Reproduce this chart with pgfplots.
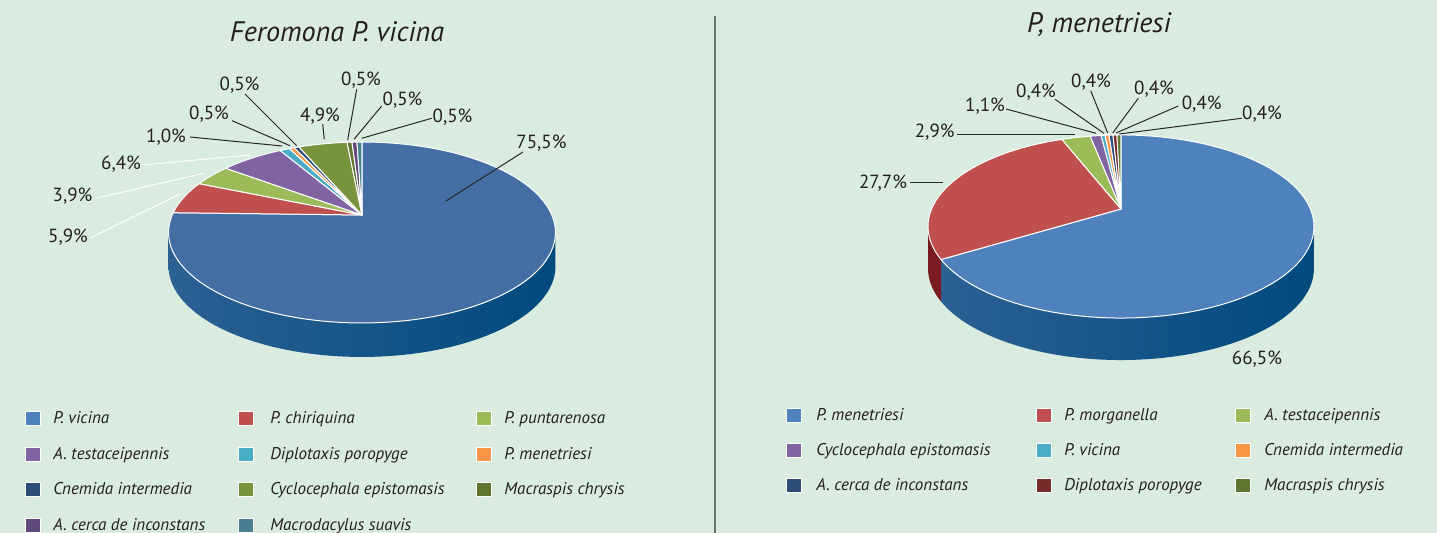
\documentclass[border=0pt]{standalone}
\usepackage{fontspec}
\setmainfont{PT Sans}
\usepackage{pgfplots}
\pgfplotsset{compat=1.18}

\definecolor{bg}{RGB}{217,236,223}
\definecolor{txt}{RGB}{35,31,32}
\definecolor{lead}{RGB}{40,40,40}
\definecolor{cBlueL}{RGB}{69,111,164}
\definecolor{cBlue}{RGB}{79,129,189}
\definecolor{cRed}{RGB}{192,80,77}
\definecolor{cGreen}{RGB}{155,187,89}
\definecolor{cPurple}{RGB}{128,100,162}
\definecolor{cCyan}{RGB}{75,172,198}
\definecolor{cOrange}{RGB}{247,150,70}
\definecolor{cNavy}{RGB}{44,77,117}
\definecolor{cOlive}{RGB}{119,147,60}
\definecolor{cDkGreen}{RGB}{95,117,48}
\definecolor{cDkPurple}{RGB}{96,74,123}
\definecolor{cTeal}{RGB}{74,126,145}
\definecolor{cDkRed}{RGB}{119,44,42}
\definecolor{wallA}{RGB}{44,96,147}
\definecolor{wallB}{RGB}{0,74,126}
\definecolor{wallRed}{RGB}{122,26,33}
\definecolor{divider}{RGB}{110,118,113}

% data: percentage / colour
\def\dataL{75.5/cBlueL,5.9/cRed,3.9/cGreen,6.4/cPurple,1.0/cCyan,0.5/cOrange,0.5/cNavy,4.9/cOlive,0.5/cDkGreen,0.5/cDkPurple,0.5/cTeal}
\def\dataR{66.5/cBlue,27.7/cRed,2.9/cGreen,1.1/cPurple,0.4/cCyan,0.4/cOrange,0.4/cNavy,0.4/cDkRed,0.4/cDkGreen}

% pie geometry (pixel units, y downwards)
\def\cxL{362}\def\cyL{215}\def\DL{34}
\def\cxR{1121}\def\cyR{209}\def\DR{42}
\pgfmathdeclarefunction{pxL}{1}{\pgfmathparse{362+189.8*sin(#1)/(1+0.1934*cos(#1))}}
\pgfmathdeclarefunction{pyL}{1}{\pgfmathparse{215-87.1*cos(#1)/(1+0.1934*cos(#1))}}
\pgfmathdeclarefunction{pxR}{1}{\pgfmathparse{1121+189.4*sin(#1)/(1+0.1913*cos(#1))}}
\pgfmathdeclarefunction{pyR}{1}{\pgfmathparse{209-88.2*cos(#1)/(1+0.1913*cos(#1))}}
\pgfmathsetmacro\thRL{90+asin(0.1934)}
\pgfmathsetmacro\thLL{270-asin(0.1934)}
\pgfmathsetmacro\thRR{90+asin(0.1913)}
\pgfmathsetmacro\thLR{270-asin(0.1913)}

\makeatletter
\newcommand\setuppie[2]{%
  \gdef\pie@tot{0}%
  \foreach \v/\c in #2 {\pgfmathparse{\pie@tot+\v}\xdef\pie@tot{\pgfmathresult}}%
  \gdef\pie@cum{0}%
  \foreach \v/\c [count=\i] in #2 {%
    \pgfmathparse{\pie@cum+360*(\v/\pie@tot)}\global\let\pie@b\pgfmathresult
    \pgfmathtruncatemacro\pie@n{(\pie@b-\pie@cum)/2+3}%
    \expandafter\xdef\csname pie#1s\i\endcsname{\pie@cum}%
    \expandafter\xdef\csname pie#1e\i\endcsname{\pie@b}%
    \expandafter\xdef\csname pie#1n\i\endcsname{\pie@n}%
    \expandafter\xdef\csname pie#1c\i\endcsname{\c}%
    \xdef\pie@cum{\pie@b}%
  }}
\newcommand\slice[2]{%
  \edef\pie@tmp{\noexpand\fill[fill=\csname pie#1c#2\endcsname, draw=white, line width=0.5pt, line join=round]
    (axis cs:\csname cx#1\endcsname,\csname cy#1\endcsname) -- plot[variable=\noexpand\t, domain=\csname pie#1s#2\endcsname:\csname pie#1e#2\endcsname, samples=\csname pie#1n#2\endcsname] (axis cs:{px#1(\noexpand\t)},{py#1(\noexpand\t)}) -- cycle;}%
  \pie@tmp}
\newcommand\wall[4]{%
  \edef\pie@tmp{\noexpand\path[#4] plot[variable=\noexpand\t, domain=#2:#3, samples=60] (axis cs:{px#1(\noexpand\t)},{py#1(\noexpand\t)}) -- plot[variable=\noexpand\t, domain=#3:#2, samples=60] (axis cs:{px#1(\noexpand\t)},{py#1(\noexpand\t)+\csname D#1\endcsname}) -- cycle;}%
  \pie@tmp}
\makeatother
\setuppie{L}{\dataL}
\setuppie{R}{\dataR}

\newcommand\legfont{\fontsize{8.5}{10}\selectfont\itshape}
\newcommand\labfont{\fontsize{9.5}{11}\selectfont}
\newcommand\titfont{\fontsize{14.1}{16}\selectfont\itshape}
\newcommand\legent[5]{%
  \fill[#4, draw=white, line width=0.3pt] (axis cs:#1,#2) rectangle (axis cs:{#1+15},{#2+14});
  \node[anchor=base west, inner sep=0pt, font=\legfont, text=txt] at (axis cs:#3,{#2+13}) {#5};}
\newcommand\lab[3]{\node[anchor=base, inner sep=0pt, font=\labfont, text=txt] at (axis cs:#1,#2) {#3};}

\pgfplotsset{pix/.style={scale only axis, height=266.5pt, ymin=0, ymax=533, y dir=reverse, hide axis, clip=false, anchor=south west}}

\begin{document}
\begin{tikzpicture}
\fill[bg] (0pt,0pt) rectangle (718.5pt,266.5pt);
% ---------------- left chart
\begin{axis}[pix, at={(0pt,0pt)}, width=357.5pt, xmin=0, xmax=715]
\wall{L}{\thRL}{\thLL}{left color=wallA, right color=wallB}
\slice{L}{1}\slice{L}{2}\slice{L}{3}\slice{L}{4}\slice{L}{5}\slice{L}{6}
\slice{L}{7}\slice{L}{8}\slice{L}{9}\slice{L}{10}\slice{L}{11}
\node[anchor=base, inner sep=0pt, font=\titfont, text=txt] at (axis cs:337,41.7) {Feromona P. vicina};
% leaders
\draw[lead, line width=0.5pt] (axis cs:523,152) -- (axis cs:446,201);
\draw[white, line width=0.5pt] (axis cs:90,238) -- (axis cs:180,194);
\draw[white, line width=0.5pt] (axis cs:97,198) -- (axis cs:205,173);
\draw[white, line width=0.5pt] (axis cs:143,165) -- (axis cs:250,155);
\draw[lead, line width=0.5pt] (axis cs:190,137) -- (axis cs:282,146);
\draw[lead, line width=0.5pt] (axis cs:232,120.7) -- (axis cs:290,145.7);
\draw[lead, line width=0.5pt] (axis cs:245,94) -- (axis cs:296.7,145.7);
\draw[lead, line width=0.5pt] (axis cs:322.7,124) -- (axis cs:324.3,139.3);
\draw[lead, line width=0.5pt] (axis cs:356.7,89.3) -- (axis cs:347.7,140);
\draw[lead, line width=0.5pt] (axis cs:381.7,106) -- (axis cs:354,139.3);
\draw[lead, line width=0.5pt] (axis cs:431.7,118.3) -- (axis cs:361.7,138.3);
\lab{541.5}{148.3}{75,5\%}
\lab{68}{242.7}{5,9\%}
\lab{72.5}{201.7}{3,9\%}
\lab{121}{170}{6,4\%}
\lab{166}{142.7}{1,0\%}
\lab{209}{120}{0,5\%}
\lab{239.5}{91}{0,5\%}
\lab{320}{121.7}{4,9\%}
\lab{361}{86}{0,5\%}
\lab{402.5}{106}{0,5\%}
\lab{452.5}{123}{0,5\%}
% legend
\legent{25}{411}{53}{cBlue}{P. vicina}
\legent{238}{411}{270}{cRed}{P. chiriquina}
\legent{476}{411}{504}{cGreen}{P. puntarenosa}
\legent{25}{447}{53}{cPurple}{A. testaceipennis}
\legent{238}{447}{270}{cCyan}{Diplotaxis poropyge}
\legent{476}{447}{504}{cOrange}{P. menetriesi}
\legent{25}{482}{53}{cNavy}{Cnemida intermedia}
\legent{238}{482}{270}{cOlive}{Cyclocephala epistomasis}
\legent{476}{482}{504}{cDkGreen}{Macraspis chrysis}
\legent{25}{518}{53}{cDkPurple}{A. cerca de inconstans}
\legent{238}{518}{270}{cTeal}{Macrodacylus suavis}
\end{axis}
% ---------------- right chart
\begin{axis}[pix, at={(357.5pt,0pt)}, width=361pt, xmin=715, xmax=1437]
\draw[divider, line width=1pt] (axis cs:715,16) -- (axis cs:715,533);
\wall{R}{\thRR}{\csname pieRe1\endcsname}{left color=wallA, right color=wallB}
\wall{R}{\csname pieRe1\endcsname}{\thLR}{fill=wallRed}
\slice{R}{1}\slice{R}{2}\slice{R}{3}\slice{R}{4}\slice{R}{5}
\slice{R}{6}\slice{R}{7}\slice{R}{8}\slice{R}{9}
\node[anchor=base, inner sep=0pt, font=\titfont, text=txt] at (axis cs:1099,32.7) {P, menetriesi};
\draw[lead, line width=0.5pt] (axis cs:957,135) -- (axis cs:1075,135);
\draw[lead, line width=0.5pt] (axis cs:1006,109) -- (axis cs:1096,133.3);
\draw[lead, line width=0.5pt] (axis cs:1055,99.3) -- (axis cs:1104,133.3);
\draw[lead, line width=0.5pt] (axis cs:1090.7,90.7) -- (axis cs:1107.7,133);
\draw[lead, line width=0.5pt] (axis cs:1138.3,98.3) -- (axis cs:1112.7,133);
\draw[lead, line width=0.5pt] (axis cs:1178.3,106) -- (axis cs:1116,133);
\draw[lead, line width=0.5pt] (axis cs:1241.7,118.3) -- (axis cs:1119.3,134);
\draw[lead, line width=0.5pt] (axis cs:910,182.3) -- (axis cs:943,182.3);
\lab{934.7}{138}{2,9\%}
\lab{985}{112}{1,1\%}
\lab{1036}{97.7}{0,4\%}
\lab{1091}{87.7}{0,4\%}
\lab{1154}{94.3}{0,4\%}
\lab{1201.7}{109.3}{0,4\%}
\lab{1262}{119.3}{0,4\%}
\lab{883}{188.8}{27,7\%}
\lab{1257}{364.3}{66,5\%}
\legent{786}{408}{816}{cBlue}{P. menetriesi}
\legent{1036}{408}{1064}{cRed}{P. morganella}
\legent{1235}{408}{1264}{cGreen}{A. testaceipennis}
\legent{786}{443}{816}{cPurple}{Cyclocephala epistomasis}
\legent{1036}{443}{1064}{cCyan}{P. vicina}
\legent{1235}{443}{1264}{cOrange}{Cnemida intermedia}
\legent{786}{478}{816}{cNavy}{A. cerca de inconstans}
\legent{1036}{478}{1064}{cDkRed}{Diplotaxis poropyge}
\legent{1235}{478}{1264}{cDkGreen}{Macraspis chrysis}
\end{axis}
\pgfresetboundingbox
\useasboundingbox (0pt,0pt) rectangle (718.5pt,266.5pt);
\end{tikzpicture}
\end{document}
